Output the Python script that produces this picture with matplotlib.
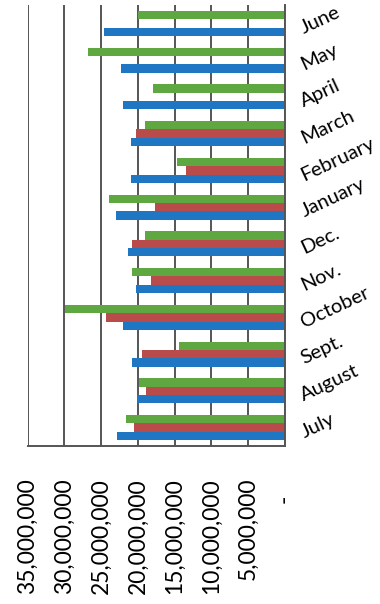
import matplotlib
matplotlib.use("Agg")
import matplotlib.pyplot as plt
import matplotlib.transforms as mtransforms
import numpy as np

months = ["June", "May", "April", "March", "February", "January",
          "Dec.", "Nov.", "October", "Sept.", "August", "July"]
# monthly totals (in dollars), one list per series
series_blue = [24.6e6, 22.3e6, 22.1e6, 20.9e6, 20.9e6, 23.0e6,
               21.4e6, 20.3e6, 22.0e6, 20.8e6, 20.2e6, 22.9e6]
series_red = [0, 0, 0, 20.3e6, 13.5e6, 17.7e6,
              20.8e6, 18.2e6, 24.4e6, 19.4e6, 18.9e6, 20.5e6]
series_green = [20.0e6, 26.8e6, 18.0e6, 19.0e6, 14.7e6, 24.0e6,
                19.1e6, 20.8e6, 29.9e6, 14.4e6, 19.9e6, 21.6e6]
value_ticks = [0, 5e6, 10e6, 15e6, 20e6, 25e6, 30e6, 35e6]
value_labels = ["-   ", "5,000,000", "10,000,000", "15,000,000", "20,000,000",
                "25,000,000", "30,000,000", "35,000,000"]

fig = plt.figure(figsize=(3.8, 6.04), dpi=100)
ax = fig.add_axes([0.0729, 0.2616, 0.6771, 0.7301])

y = np.arange(len(months))
h = 0.226
ax.barh(y - h, series_green, height=h, color="#5fa741", zorder=2)
ax.barh(y, series_red, height=h, color="#b94b4b", zorder=2)
ax.barh(y + h, series_blue, height=h, color="#1f76c2", zorder=2)

ax.set_xlim(35e6, 0)
ax.set_ylim(len(months) - 0.5, -0.5)

ax.set_xticks(value_ticks)
ax.set_xticklabels(value_labels, rotation=90, family="Lato", fontsize=16.5)
ax.tick_params(axis="x", length=0, pad=23)
ax.xaxis.grid(True, color="#555555", linewidth=1.4, zorder=1)
ax.set_axisbelow(True)

ax.yaxis.tick_right()
ax.set_yticks(y)
ax.set_yticklabels(months, family="Lato", fontsize=14.5, rotation=25,
                   ha="left", va="center", rotation_mode="anchor")
ax.tick_params(axis="y", length=0, pad=12)
shift = mtransforms.ScaledTranslation(0, -4 / 72, fig.dpi_scale_trans)
for lbl in ax.get_yticklabels():
    lbl.set_transform(lbl.get_transform() + shift)

ax.spines["top"].set_visible(False)
ax.spines["left"].set_visible(False)
ax.spines["right"].set_color("#555555")
ax.spines["right"].set_linewidth(1.4)
ax.spines["bottom"].set_color("#555555")
ax.spines["bottom"].set_linewidth(1.4)

fig.savefig("out.png", dpi=100, facecolor="white")
